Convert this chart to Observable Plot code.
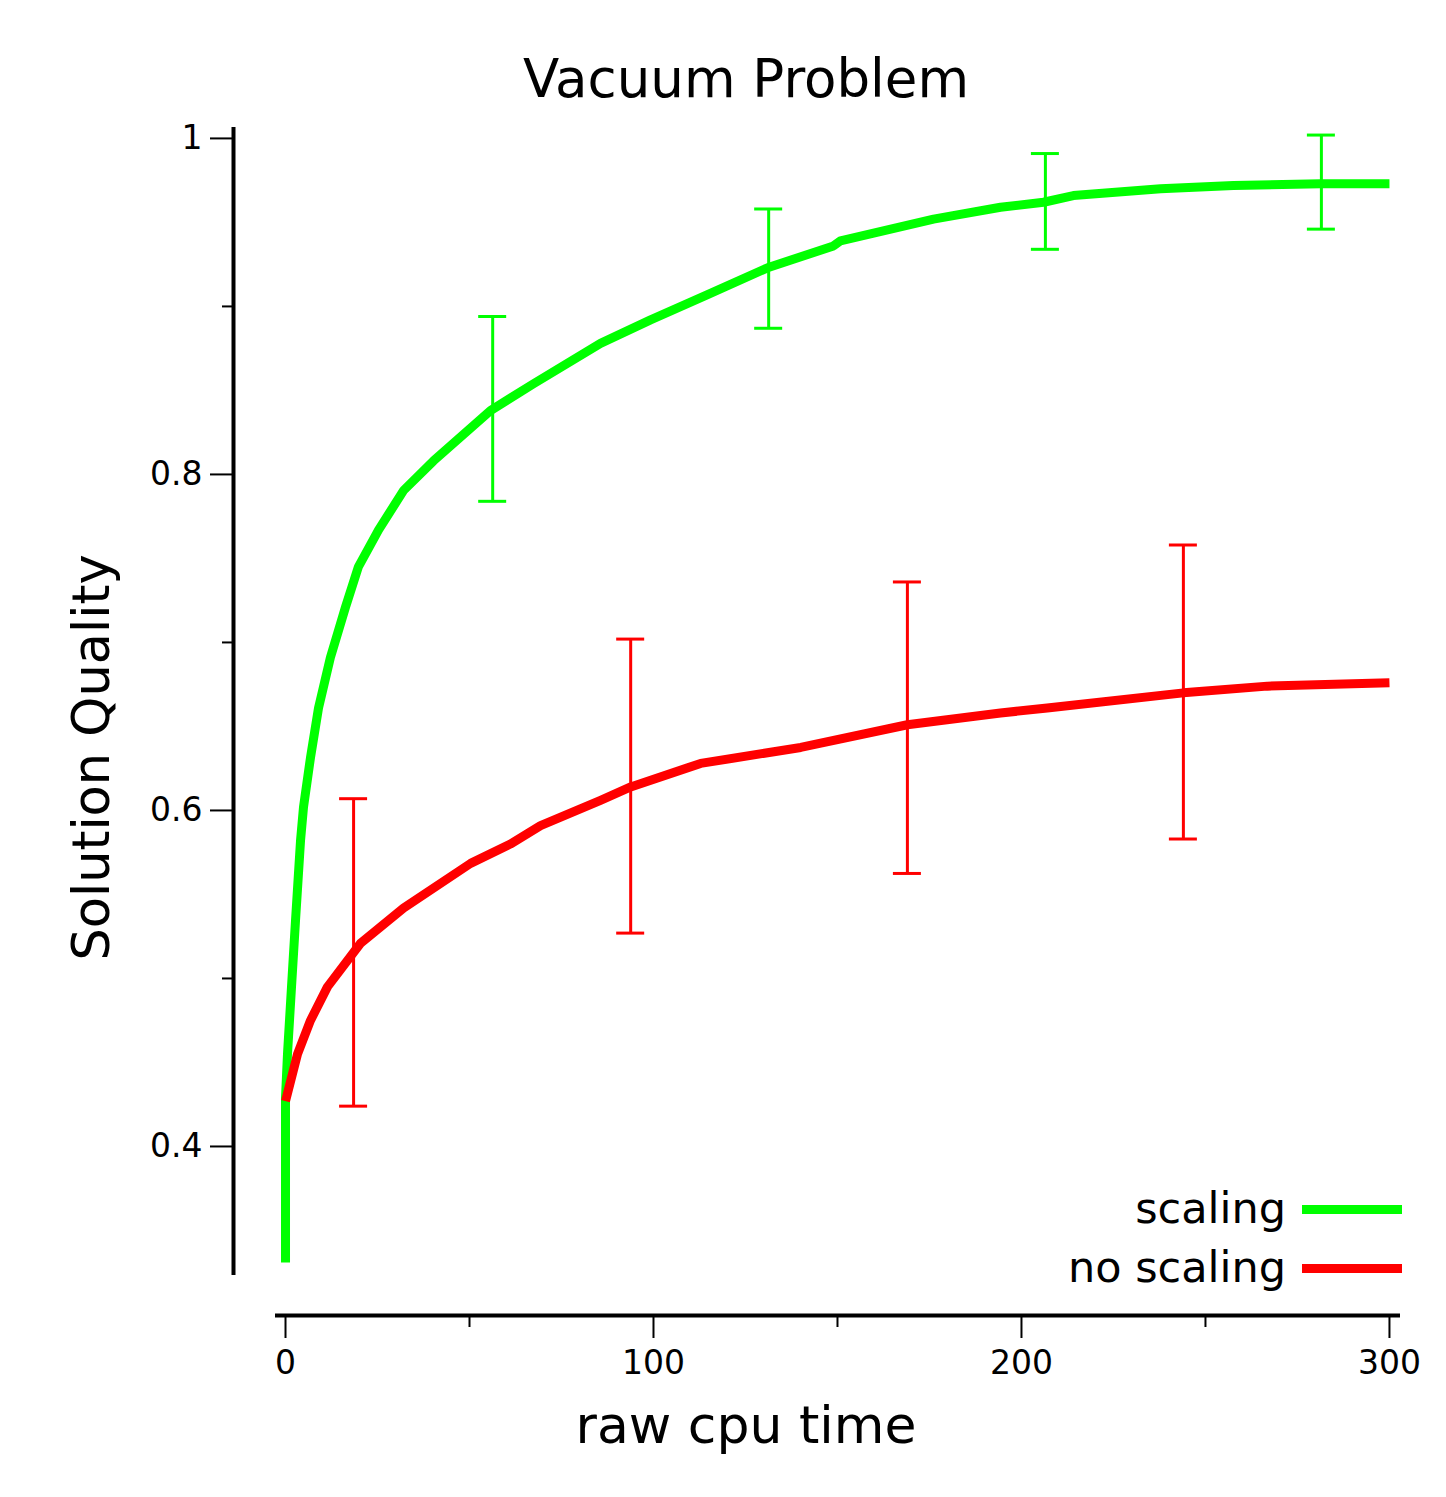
<!DOCTYPE html>
<html>
<head>
<meta charset="utf-8">
<script src="https://cdn.jsdelivr.net/npm/d3@7"></script>
<script src="https://cdn.jsdelivr.net/npm/@observablehq/plot@0.6"></script>
<style>
  body { margin: 0; background: #fff; }
  #wrap { position: relative; width: 1446px; height: 1497px; font-family: "DejaVu Sans", sans-serif; }
  #wrap svg { position: absolute; left: 0; top: 0; overflow: visible; }
  .leg { position: absolute; font-size: 43px; line-height: 1; color: #000; }
  .sw { position: absolute; height: 9px; }
</style>
</head>
<body>
<div id="wrap"></div>
<script>
// ---- data ----
const titleText = "Vacuum Problem";
const xLabel = "raw cpu time";
const yLabel = "Solution Quality";
const seriesNames = ["scaling", "no scaling"];
const seriesColors = ["#00ff00", "#ff0000"];

const scalingX = [0, 0, 0.54, 1.63, 2.72, 4.08, 4.89, 6.79, 8.97, 12.2, 16.3, 19.8, 25.3, 32.1, 40.2, 55.7, 67.4, 85.6, 99.2, 114.7, 131, 148.9, 150.8, 176.1, 194.3, 206, 214.1, 237.8, 257.6, 281.3, 300];
const scalingY = [0.331, 0.429, 0.455, 0.495, 0.5345, 0.582, 0.602, 0.6315, 0.661, 0.691, 0.721, 0.745, 0.767, 0.7905, 0.808, 0.838, 0.854, 0.878, 0.892, 0.907, 0.923, 0.936, 0.939, 0.952, 0.959, 0.962, 0.966, 0.970, 0.972, 0.973, 0.973];

const noScalingX = [0, 3.26, 6.79, 11.4, 20.4, 32.1, 50.3, 61.1, 69.3, 85.6, 93.8, 112.8, 140, 169, 194.3, 207, 244, 266.8, 300];
const noScalingY = [0.427, 0.455, 0.475, 0.495, 0.521, 0.542, 0.5685, 0.580, 0.591, 0.606, 0.614, 0.628, 0.6375, 0.651, 0.658, 0.661, 0.670, 0.674, 0.676];

const scalingErrX = [56.3, 131.3, 206.5, 281.5];
const scalingErrLo = [0.784, 0.887, 0.934, 0.946];
const scalingErrHi = [0.894, 0.958, 0.991, 1.002];

const noScalingErrX = [18.5, 93.8, 169, 244];
const noScalingErrLo = [0.424, 0.527, 0.5625, 0.583];
const noScalingErrHi = [0.607, 0.702, 0.736, 0.758];

const xMajorTicks = [0, 100, 200, 300];
const xMinorTicks = [50, 150, 250];
const yMajorTicks = [0.4, 0.6, 0.8, 1];
const yMinorTicks = [0.5, 0.7, 0.9];
const xDomain = [-2.72, 303];
const yDomain = [0.3232, 1.0065];

// ---- build tables ----
const lineData = [
  ...scalingX.map((x, i) => ({x, y: scalingY[i], s: seriesNames[0]})),
  ...noScalingX.map((x, i) => ({x, y: noScalingY[i], s: seriesNames[1]}))
];
const errData = [
  ...scalingErrX.map((x, i) => ({x, lo: scalingErrLo[i], hi: scalingErrHi[i], s: seriesNames[0]})),
  ...noScalingErrX.map((x, i) => ({x, lo: noScalingErrLo[i], hi: noScalingErrHi[i], s: seriesNames[1]}))
];
const capData = errData.flatMap(d => [{x: d.x, y: d.lo, s: d.s}, {x: d.x, y: d.hi, s: d.s}]);

const font = {fontFamily: "DejaVu Sans, sans-serif"};

const chart = Plot.plot({
  width: 1446,
  height: 1497,
  marginLeft: 275,
  marginRight: 46,
  marginTop: 127,
  marginBottom: 222,
  style: {background: "white", color: "black", ...font, overflow: "visible"},
  x: {domain: xDomain, axis: null},
  y: {domain: yDomain, axis: null},
  color: {domain: seriesNames, range: seriesColors},
  marks: [
    // axis lines (offset from the frame)
    Plot.ruleX([xDomain[0]], {dx: -42, stroke: "black", strokeWidth: 4}),
    Plot.ruleY([yDomain[0]], {dy: 40, stroke: "black", strokeWidth: 4}),
    // y axis
    Plot.axisY({ticks: yMajorTicks, tickSize: 23, dx: -42, tickPadding: 8, strokeWidth: 2,
      tickFormat: d => String(d), fontSize: 33, label: null}),
    Plot.axisY({ticks: yMinorTicks, tickSize: 11, dx: -42, strokeWidth: 2, tickFormat: () => "", label: null}),
    // x axis
    Plot.axisX({ticks: xMajorTicks, tickSize: 22, dy: 41, tickPadding: 12, strokeWidth: 2,
      tickFormat: d => String(d), fontSize: 33, label: null}),
    Plot.axisX({ticks: xMinorTicks, tickSize: 11, dy: 41, strokeWidth: 2, tickFormat: () => "", label: null}),
    // error bars
    Plot.ruleX(errData, {x: "x", y1: "lo", y2: "hi", stroke: "s", strokeWidth: 3}),
    Plot.ruleY(capData, {y: "y", x1: "x", x2: "x", insetLeft: -14, insetRight: -14, stroke: "s", strokeWidth: 3}),
    // curves
    Plot.line(lineData, {x: "x", y: "y", z: "s", stroke: "s", strokeWidth: 9, strokeLinejoin: "round", strokeLinecap: "butt"}),
    // titles
    Plot.text([titleText], {text: d => d, frameAnchor: "top", dx: -92, dy: -47, fontSize: 53, lineAnchor: "middle", fill: "black"}),
    Plot.text([xLabel], {text: d => d, frameAnchor: "bottom", dx: -92, dy: 151, fontSize: 52, lineAnchor: "middle", fill: "black"}),
    Plot.text([yLabel], {text: d => d, frameAnchor: "left", textAnchor: "middle", dx: -183, dy: 56, rotate: -90, fontSize: 51, lineAnchor: "middle", fill: "black"})
  ]
});

const wrap = document.getElementById("wrap");
wrap.appendChild(chart);

// legend (HTML, overlaid at the lower right)
const legendRows = [
  {name: seriesNames[0], color: seriesColors[0], cy: 1209},
  {name: seriesNames[1], color: seriesColors[1], cy: 1268}
];
for (const r of legendRows) {
  const t = document.createElement("div");
  t.className = "leg";
  t.textContent = r.name;
  t.style.right = (1446 - 1286) + "px";
  t.style.top = (r.cy - 22) + "px";
  wrap.appendChild(t);
  const s = document.createElement("div");
  s.className = "sw";
  s.style.left = "1302px";
  s.style.width = "100px";
  s.style.top = (r.cy - 4.5) + "px";
  s.style.background = r.color;
  wrap.appendChild(s);
}
</script>
</body>
</html>
